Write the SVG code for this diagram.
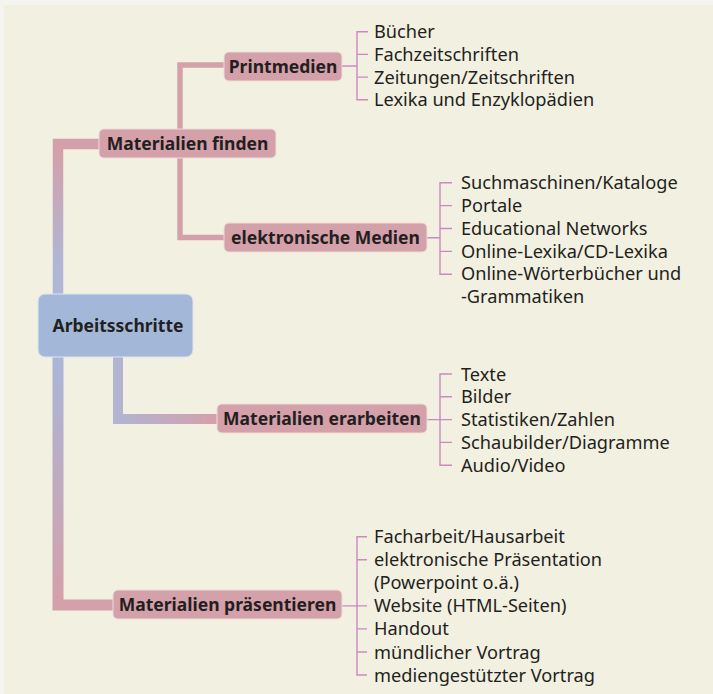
<svg xmlns="http://www.w3.org/2000/svg" width="713" height="694" viewBox="0 0 713 694">
<defs>
<style>
.box{fill:#d4a0aa;stroke:#ecdcd8;stroke-width:1}
.root{fill:#a3b8d8;stroke:#dfe4ee;stroke-width:1}
.bt{font-family:"Noto Sans","Open Sans",sans-serif;font-weight:bold;font-size:17.5px;fill:#231f20;text-anchor:middle}
.lt{font-family:"Noto Sans","Open Sans",sans-serif;font-size:18.2px;fill:#231f20}
.leaf{fill:none;stroke:#cc88c2;stroke-width:1.4}
.thin{fill:none;stroke:#d4a0aa;stroke-width:5.5}
</style>
<linearGradient id="gTop" gradientUnits="userSpaceOnUse" x1="0" y1="150" x2="0" y2="265">
<stop offset="0" stop-color="#d4a0aa"/><stop offset="1" stop-color="#afb6d6"/>
</linearGradient>
<linearGradient id="gBot" gradientUnits="userSpaceOnUse" x1="0" y1="360" x2="0" y2="600">
<stop offset="0" stop-color="#aab6d8"/><stop offset="1" stop-color="#d4a0aa"/>
</linearGradient>
<linearGradient id="gMid" gradientUnits="userSpaceOnUse" x1="118" y1="0" x2="217" y2="0">
<stop offset="0" stop-color="#b2b4d2"/><stop offset="1" stop-color="#d4a0aa"/>
</linearGradient>
</defs>
<rect x="0" y="0" width="713" height="694" fill="#f5f5ef"/>
<rect x="4" y="5" width="709" height="689" fill="#f2f0e0"/>
<g id="connectors">
<path d="M58,294 V144 H100" fill="none" stroke="url(#gTop)" stroke-width="10.5"/>
<path d="M58,357 V605 H114" fill="none" stroke="url(#gBot)" stroke-width="11"/>
<path d="M118,357 V419 H218" fill="none" stroke="url(#gMid)" stroke-width="10"/>
<path class="thin" d="M180,129 V65 H225"/>
<path class="thin" d="M180,158 V237.5 H225"/>
<path class="leaf" d="M342,66 H357 M368,31.7 H357 V99.8 H368 M357,54.4 H368 M357,77.1 H368"/>
<path class="leaf" d="M427,237.7 H440 M452,182.7 H440 V274.3 H452 M440,205.6 H452 M440,228.5 H452 M440,251.4 H452"/>
<path class="leaf" d="M427,419.6 H440 M452,374 H440 V465.2 H452 M440,396.8 H452 M440,419.6 H452 M440,442.4 H452"/>
<path class="leaf" d="M342,605.9 H357 M367,536.7 H357 V675 H367 M357,559.8 H367 M357,605.9 H367 M357,628.9 H367 M357,652 H367"/>
</g>
<g id="root">
<rect class="root" x="38" y="294" width="155" height="63" rx="7"/>
<text class="bt" x="118" y="332">Arbeitsschritte</text>
</g>
<g id="finden">
<rect class="box" x="99" y="129" width="177" height="29" rx="5"/>
<text class="bt" x="187.5" y="150">Materialien finden</text>
</g>
<g id="print">
<rect class="box" x="224" y="52" width="118" height="29" rx="5"/>
<text class="bt" x="283" y="73">Printmedien</text>
</g>
<g id="print-leaves">
<text class="lt" x="374" y="38.3">Bücher</text>
<text class="lt" x="374" y="61">Fachzeitschriften</text>
<text class="lt" x="374" y="83.7">Zeitungen/Zeitschriften</text>
<text class="lt" x="374" y="106.4">Lexika und Enzyklopädien</text>
</g>
<g id="elektro">
<rect class="box" x="224" y="223" width="203" height="29" rx="5"/>
<text class="bt" x="325.5" y="244">elektronische Medien</text>
</g>
<g id="elektro-leaves">
<text class="lt" x="461" y="189.2">Suchmaschinen/Kataloge</text>
<text class="lt" x="461" y="212.1">Portale</text>
<text class="lt" x="461" y="235">Educational Networks</text>
<text class="lt" x="461" y="257.6">Online-Lexika/CD-Lexika</text>
<text class="lt" x="461" y="280">Online-Wörterbücher und</text>
<text class="lt" x="461" y="302.5">-Grammatiken</text>
</g>
<g id="erarbeiten">
<rect class="box" x="217" y="404" width="210" height="29" rx="5"/>
<text class="bt" x="322" y="425">Materialien erarbeiten</text>
</g>
<g id="erarbeiten-leaves">
<text class="lt" x="461" y="380.5">Texte</text>
<text class="lt" x="461" y="403.3">Bilder</text>
<text class="lt" x="461" y="426.1">Statistiken/Zahlen</text>
<text class="lt" x="461" y="448.9">Schaubilder/Diagramme</text>
<text class="lt" x="461" y="471.7">Audio/Video</text>
</g>
<g id="praesentieren">
<rect class="box" x="113" y="590" width="229" height="29" rx="5"/>
<text class="bt" x="227.5" y="611">Materialien präsentieren</text>
</g>
<g id="praesentieren-leaves">
<text class="lt" x="374" y="543.2">Facharbeit/Hausarbeit</text>
<text class="lt" x="374" y="566.3">elektronische Präsentation</text>
<text class="lt" x="374" y="589.3">(Powerpoint o.ä.)</text>
<text class="lt" x="374" y="612.4">Website (HTML-Seiten)</text>
<text class="lt" x="374" y="635.4">Handout</text>
<text class="lt" x="374" y="658.5">mündlicher Vortrag</text>
<text class="lt" x="374" y="681.5">mediengestützter Vortrag</text>
</g>
</svg>
